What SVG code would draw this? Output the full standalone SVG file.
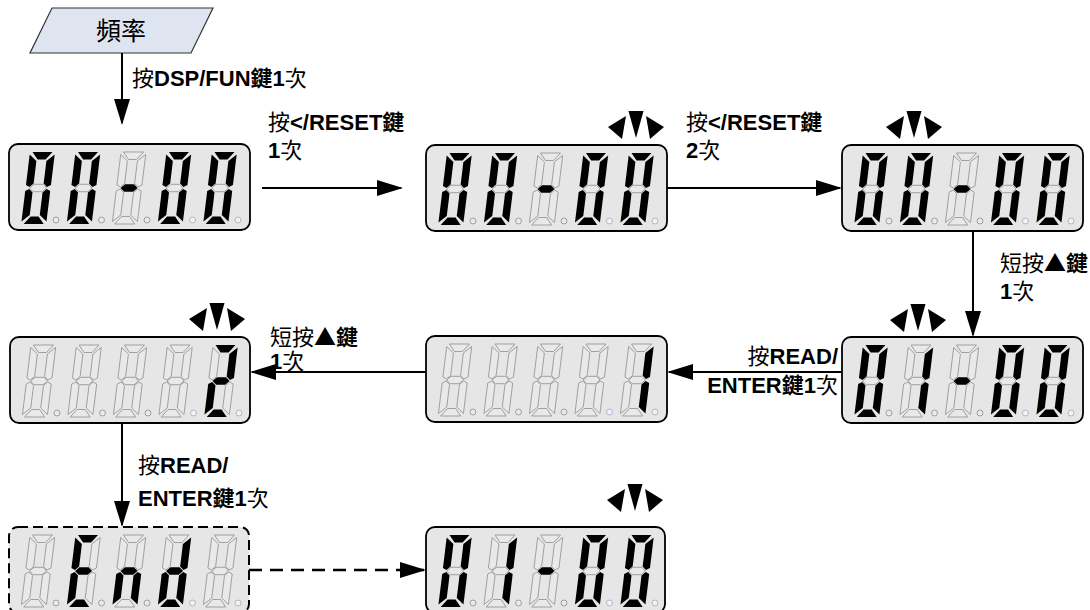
<svg xmlns="http://www.w3.org/2000/svg" width="1090" height="610" viewBox="0 0 1090 610">
<defs>
<style>
.box{fill:#e6e6e6;stroke:#000;stroke-width:1.8}
.dashbox{stroke-dasharray:10 5;stroke-width:2}
.on{fill:#000}
.off{fill:#e9e9e9;stroke:#999;stroke-width:0.9}
.dot{fill:#e9e9e9;stroke:#999;stroke-width:0.9}
.dotb{fill:#eef3fb;stroke:#a9b1c2;stroke-width:0.9}
.conn{stroke:#000;stroke-width:2;fill:none;marker-end:url(#ah)}
.dconn{stroke-dasharray:13 8;stroke-width:2.5}
.lbl{font-family:"Liberation Sans","Noto Sans CJK TC",sans-serif;font-size:22px;font-weight:bold;fill:#000}
.n{font-weight:normal}
.sym{font-family:"Noto Sans CJK TC",sans-serif;font-weight:normal}
.title{font-family:"Noto Sans CJK TC","Liberation Sans",sans-serif;font-size:25px;fill:#000}
</style>
<marker id="ah" markerUnits="userSpaceOnUse" markerWidth="26" markerHeight="16" refX="24" refY="8" orient="auto">
<path d="M0,0 L26,8 L0,16 Z" fill="#000"/>
</marker>
<path id="sa" d="M2.5,0 H22.5 L16.5,7.5 H8.5 Z"/>
<path id="sf" d="M0,2.5 L7.5,9 V31.5 L3.75,35 L0,33 Z"/>
<path id="sb" d="M25,2.5 V33 L21.25,35 L17.5,31.5 V9 Z"/>
<path id="sg" d="M4,36 L8,32.3 H17 L21,36 L17,39.7 H8 Z"/>
<path id="se" d="M0,39 L3.75,37 L7.5,40.5 V63 L0,69.5 Z"/>
<path id="sc" d="M25,39 V69.5 L17.5,63 V40.5 L21.25,37 Z"/>
<path id="sd" d="M8.5,64.5 H16.5 L22.5,72 H2.5 Z"/>
<g id="d0" transform="skewX(-7)"><use href="#sa" class="on"/><use href="#sb" class="on"/><use href="#sc" class="on"/><use href="#sd" class="on"/><use href="#se" class="on"/><use href="#sf" class="on"/><use href="#sg" class="off"/></g>
<g id="dm" transform="skewX(-7)"><use href="#sa" class="off"/><use href="#sb" class="off"/><use href="#sc" class="off"/><use href="#sd" class="off"/><use href="#se" class="off"/><use href="#sf" class="off"/><use href="#sg" class="on"/></g>
<g id="d1" transform="skewX(-7)"><use href="#sa" class="off"/><use href="#sb" class="on"/><use href="#sc" class="on"/><use href="#sd" class="off"/><use href="#se" class="off"/><use href="#sf" class="off"/><use href="#sg" class="off"/></g>
<g id="d2" transform="skewX(-7)"><use href="#sa" class="on"/><use href="#sb" class="on"/><use href="#sc" class="off"/><use href="#sd" class="on"/><use href="#se" class="on"/><use href="#sf" class="off"/><use href="#sg" class="on"/></g>
<g id="dE" transform="skewX(-7)"><use href="#sa" class="on"/><use href="#sb" class="off"/><use href="#sc" class="off"/><use href="#sd" class="on"/><use href="#se" class="on"/><use href="#sf" class="on"/><use href="#sg" class="on"/></g>
<g id="dn" transform="skewX(-7)"><use href="#sa" class="off"/><use href="#sb" class="off"/><use href="#sc" class="on"/><use href="#sd" class="off"/><use href="#se" class="on"/><use href="#sf" class="off"/><use href="#sg" class="on"/></g>
<g id="dd" transform="skewX(-7)"><use href="#sa" class="off"/><use href="#sb" class="on"/><use href="#sc" class="on"/><use href="#sd" class="on"/><use href="#se" class="on"/><use href="#sf" class="off"/><use href="#sg" class="on"/></g>
<g id="dx" transform="skewX(-7)"><use href="#sa" class="off"/><use href="#sb" class="off"/><use href="#sc" class="off"/><use href="#sd" class="off"/><use href="#se" class="off"/><use href="#sf" class="off"/><use href="#sg" class="off"/></g>
<g id="dots"><circle class="dot" cx="47" cy="76" r="3"/><circle class="dot" cx="92.5" cy="76" r="3"/><circle class="dot" cx="138" cy="76" r="3"/><circle class="dotb" cx="183.5" cy="76" r="3"/><circle class="dotb" cx="229" cy="76" r="3"/></g>
<g id="tri" fill="#000"><polygon points="-7.5,0 7.5,0 0,27"/><polygon points="-10,5 -28,16 -14,28"/><polygon points="10,5 28,16 14,28"/></g>
</defs>
<rect width="1090" height="610" fill="#fff"/>

<g id="start">
<polygon points="52,8 213,8 191,53 30,53" fill="#dfe5f0" stroke="#333" stroke-width="1.2"/>
<text class="title" x="121" y="40" text-anchor="middle">頻率</text>
</g>

<g id="disp1" transform="translate(9,144)">
<rect class="box" width="241" height="86" rx="9"/>
<use href="#d0" x="21" y="8"/><use href="#d0" x="66.5" y="8"/><use href="#dm" x="112" y="8"/><use href="#d0" x="157.5" y="8"/><use href="#d0" x="203" y="8"/>
<use href="#dots"/>
</g>

<g id="disp2" transform="translate(426,145)">
<rect class="box" width="241" height="86" rx="9"/>
<use href="#d0" x="21" y="8"/><use href="#d0" x="66.5" y="8"/><use href="#dm" x="112" y="8"/><use href="#d0" x="157.5" y="8"/><use href="#d0" x="203" y="8"/>
<use href="#dots"/>
</g>
<use id="blink2" href="#tri" x="636" y="111"/>

<g id="disp3" transform="translate(842,145)">
<rect class="box" width="241" height="86" rx="9"/>
<use href="#d0" x="21" y="8"/><use href="#d0" x="66.5" y="8"/><use href="#dm" x="112" y="8"/><use href="#d0" x="157.5" y="8"/><use href="#d0" x="203" y="8"/>
<use href="#dots"/>
</g>
<use id="blink3" href="#tri" x="914" y="111"/>

<g id="disp6" transform="translate(842,337)">
<rect class="box" width="241" height="86" rx="9"/>
<use href="#d0" x="21" y="8"/><use href="#d1" x="66.5" y="8"/><use href="#dm" x="112" y="8"/><use href="#d0" x="157.5" y="8"/><use href="#d0" x="203" y="8"/>
<use href="#dots"/>
</g>
<use id="blink6" href="#tri" x="918" y="304"/>

<g id="disp5" transform="translate(426,336)">
<rect class="box" width="241" height="86" rx="9"/>
<use href="#dx" x="21" y="8"/><use href="#dx" x="66.5" y="8"/><use href="#dx" x="112" y="8"/><use href="#dx" x="157.5" y="8"/><use href="#d1" x="203" y="8"/>
<use href="#dots"/>
</g>

<g id="disp4" transform="translate(10,337)">
<rect class="box" width="240" height="86" rx="9"/>
<use href="#dx" x="21" y="8"/><use href="#dx" x="66.5" y="8"/><use href="#dx" x="112" y="8"/><use href="#dx" x="157.5" y="8"/><use href="#d2" x="203" y="8"/>
<use href="#dots"/>
</g>
<use id="blink4" href="#tri" x="217" y="303"/>

<g id="disp7" transform="translate(9,527)">
<rect class="box dashbox" width="240" height="86" rx="9"/>
<use href="#dx" x="21" y="8"/><use href="#dE" x="66.5" y="8"/><use href="#dn" x="112" y="8"/><use href="#dd" x="157.5" y="8"/><use href="#dx" x="203" y="8"/>
<use href="#dots"/>
</g>

<g id="disp8" transform="translate(426,527)">
<rect class="box" width="239" height="86" rx="9"/>
<use href="#d0" x="21" y="8"/><use href="#d1" x="66.5" y="8"/><use href="#dm" x="112" y="8"/><use href="#d0" x="157.5" y="8"/><use href="#d0" x="203" y="8"/>
<use href="#dots"/>
</g>
<use id="blink8" href="#tri" x="635" y="484"/>

<g id="connectors">
<line class="conn" x1="122" y1="53" x2="122" y2="123"/>
<line class="conn" x1="262" y1="188" x2="401" y2="188"/>
<line class="conn" x1="667" y1="188" x2="840" y2="188"/>
<line class="conn" x1="973" y1="231" x2="973" y2="335"/>
<line class="conn" x1="842" y1="372" x2="669" y2="372"/>
<line class="conn" x1="426" y1="372" x2="252" y2="372"/>
<line class="conn" x1="122" y1="423" x2="122" y2="525"/>
<line class="conn dconn" x1="249" y1="570" x2="424" y2="570"/>
</g>

<g id="labels">
<text class="lbl" x="132" y="86"><tspan class="n">按</tspan>DSP/FUN鍵1<tspan class="n">次</tspan></text>
<text class="lbl" x="268" y="130"><tspan class="n">按</tspan>&lt;/RESET鍵</text>
<text class="lbl" x="268" y="158">1<tspan class="n">次</tspan></text>
<text class="lbl" x="686" y="130"><tspan class="n">按</tspan>&lt;/RESET鍵</text>
<text class="lbl" x="686" y="158">2<tspan class="n">次</tspan></text>
<text class="lbl" x="1000" y="271"><tspan class="n">短按</tspan><tspan class="sym">▲</tspan>鍵</text>
<text class="lbl" x="1000" y="299">1<tspan class="n">次</tspan></text>
<text class="lbl" x="838" y="364" text-anchor="end"><tspan class="n">按</tspan>READ/</text>
<text class="lbl" x="838" y="393" text-anchor="end">ENTER鍵1<tspan class="n">次</tspan></text>
<text class="lbl" x="270" y="345"><tspan class="n">短按</tspan><tspan class="sym">▲</tspan>鍵</text>
<text class="lbl" x="270" y="369">1<tspan class="n">次</tspan></text>
<text class="lbl" x="138" y="473"><tspan class="n">按</tspan>READ/</text>
<text class="lbl" x="138" y="506">ENTER鍵1<tspan class="n">次</tspan></text>
</g>
</svg>
